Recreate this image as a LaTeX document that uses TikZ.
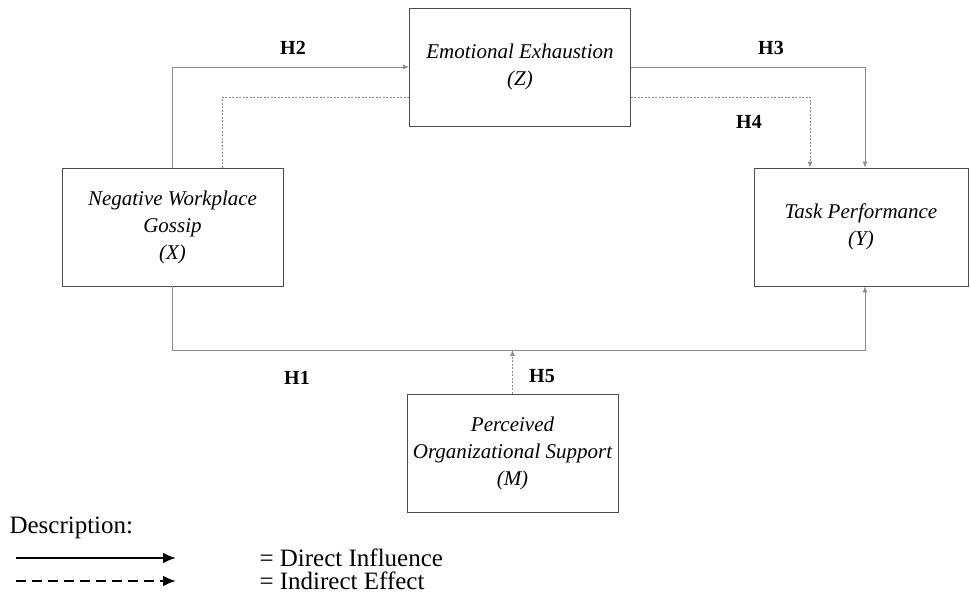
\documentclass[tikz,border=0pt]{standalone}
\usepackage{fontspec}
\setmainfont{Liberation Serif}
\usetikzlibrary{arrows.meta,calc,positioning}

\begin{document}
\begin{tikzpicture}[x=1pt, y=-1pt, line join=miter,
    construct/.style={draw=black!70, line width=0.8pt, minimum width=221pt, minimum height=118pt,
                      align=center, font=\fontsize{21}{27}\selectfont\itshape},
    direct/.style={draw=black!45, line width=0.8pt, -{Latex[length=6pt,width=5pt]}},
    indirect/.style={draw=black!45, line width=0.8pt, dash pattern=on 2pt off 1.5pt, -{Latex[length=6pt,width=5pt]}},
    hyp/.style={font=\fontsize{20}{20}\selectfont\bfseries},
    legend/.style={font=\fontsize{25}{25}\selectfont}]
\useasboundingbox (0,0) rectangle (970,594);

% variables
\node[construct] (Z) at (520,67)   {Emotional Exhaustion\\(Z)};
\node[construct] (X) at (172.5,227) {Negative Workplace\\Gossip\\(X)};
\node[construct, minimum width=214pt] (Y) at (861,227) {Task Performance\\(Y)};
\node[construct, minimum width=211pt] (M) at (512.5,453) {Perceived\\Organizational Support\\(M)};

\coordinate (bus) at (0,350);

% H2 and indirect X -> Z
\draw[direct] (X.north) |- (Z.west);
\draw[indirect, -] ($(X.north)+(50,0)$) |- ($(Z.west)+(0,30)$);

% H3 and H4 Z -> Y
\draw[direct] (Z.east) -| ($(Y.north)+(4,0)$);
\draw[indirect] ($(Z.east)+(0,30)$) -| ($(Y.north)+(-51,0)$);

% H1 X -> Y
\draw[direct] (X.south) |- ($(Y.south |- bus)+(4,0)$) -- ($(Y.south)+(4,0)$);

% H5 moderation
\draw[indirect] (M.north) -- (M.north |- bus);

% labels
\node[hyp] (h2) at (293,48)  {H2};
\node[hyp] (h3) at (771,48)  {H3};
\node[hyp] (h4) at (749,122) {H4};
\node[hyp] (h1) at (297,378) {H1};
\node[hyp] (h5) at (542,376) {H5};

% legend
\node[legend, anchor=west] (desc) at (6,528) {Description:};
\coordinate (l1a) at (16,558);
\coordinate (l1b) at (176,558);
\coordinate (l2a) at (16,581);
\coordinate (l2b) at (176,581);
\draw[line width=2.8pt, -{Latex[length=13pt,width=11pt]}] (l1a) -- (l1b);
\draw[line width=2.8pt, dash pattern=on 10pt off 6pt, -{Latex[length=13pt,width=11pt]}] (l2a) -- (l2b);
\node[legend, anchor=west] (dir) at (256,558) {= Direct Influence};
\node[legend, anchor=west] (ind) at (256,581) {= Indirect Effect};
\end{tikzpicture}
\end{document}
